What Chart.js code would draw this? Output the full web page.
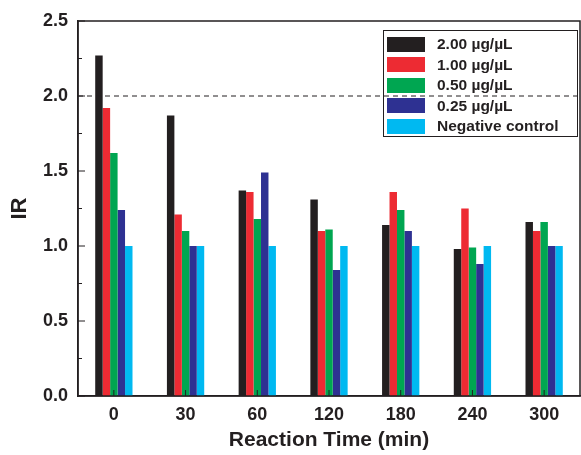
<!DOCTYPE html>
<html>
<head>
<meta charset="utf-8">
<script src="https://cdn.jsdelivr.net/npm/chart.js@4.4.1/dist/chart.umd.min.js"></script>
<style>
    html, body { margin: 0; padding: 0; background: #fff; }
    #wrap { position: relative; width: 581px; height: 455px; }
    #legend {
        position: absolute; left: 383px; top: 30px; width: 195px; height: 107px;
        border: 1.2px solid #231f20; box-sizing: border-box; padding: 3px 0 0 3px;
        font: bold 15.5px "Liberation Sans", Arial, sans-serif; color: #231f20;
    }
    .row { display: flex; align-items: center; height: 20.5px; }
    .sw { width: 38px; height: 15px; margin-right: 12px; }
</style>
</head>
<body>
<div id="wrap">
    <canvas id="chart" width="581" height="455"></canvas>
    <div id="legend"></div>
</div>
<script>
// categories (reaction time, min)
const times = ['0', '30', '60', '120', '180', '240', '300'];

const seriesNames = ['2.00 µg/µL', '1.00 µg/µL', '0.50 µg/µL', '0.25 µg/µL', 'Negative control'];
const seriesColors = ['#231f20', '#ed2b33', '#00a651', '#2e3192', '#00b9f1'];

const ir200 = [2.27, 1.87, 1.37, 1.31, 1.14, 0.98, 1.16];
const ir100 = [1.92, 1.21, 1.36, 1.10, 1.36, 1.25, 1.10];
const ir050 = [1.62, 1.10, 1.18, 1.11, 1.24, 0.99, 1.16];
const ir025 = [1.24, 1.00, 1.49, 0.84, 1.10, 0.88, 1.00];
const irNeg = [1.00, 1.00, 1.00, 1.00, 1.00, 1.00, 1.00];

const threshold = 2.0;

const FONT = '"Liberation Sans", Arial, sans-serif';

const allSeries = [ir200, ir100, ir050, ir025, irNeg];

// frame on top/right, inward ticks and the dashed threshold line
const framePlugin = {
    id: 'frame',
    afterDatasetsDraw(chart) {
        const { ctx, chartArea: a, scales } = chart;
        ctx.save();
        ctx.strokeStyle = '#231f20';
        const y = scales.y.getPixelForValue(threshold);
        ctx.lineWidth = 1;
        ctx.setLineDash([5, 4]);
        ctx.beginPath();
        ctx.moveTo(a.left, y);
        ctx.lineTo(a.right, y);
        ctx.stroke();
        ctx.setLineDash([]);
        ctx.lineWidth = 1.5;
        ctx.strokeRect(a.left, a.top, a.right - a.left, a.bottom - a.top);
        ctx.lineWidth = 1;
        times.forEach((t, i) => {
            const x = scales.x.getPixelForValue(i);
            ctx.beginPath();
            ctx.moveTo(x, a.bottom);
            ctx.lineTo(x, a.bottom - 6);
            ctx.stroke();
        });
        scales.y.ticks.forEach(tk => {
            const ty = scales.y.getPixelForValue(tk.value);
            const len = tk.label ? 7 : 4;
            ctx.beginPath();
            ctx.moveTo(a.left, ty);
            ctx.lineTo(a.left + len, ty);
            ctx.stroke();
        });
        ctx.restore();
    }
};

new Chart(document.getElementById('chart'), {
    type: 'bar',
    data: {
        labels: times,
        datasets: allSeries.map((data, i) => ({
            label: seriesNames[i],
            data: data,
            backgroundColor: seriesColors[i],
            borderWidth: 0,
            categoryPercentage: 0.52,
            barPercentage: 1.0
        }))
    },
    options: {
        responsive: false,
        animation: false,
        layout: { padding: { top: 21, right: 1, left: 0, bottom: 0 } },
        plugins: {
            legend: { display: false },
            tooltip: { enabled: false }
        },
        scales: {
            x: {
                grid: { display: false, drawTicks: false },
                border: { display: true, color: '#231f20', width: 1.5 },
                ticks: { color: '#231f20', padding: 8, font: { family: FONT, size: 18, weight: 'bold' } },
                title: {
                    display: true, text: 'Reaction Time (min)', color: '#231f20',
                    font: { family: FONT, size: 21, weight: 'bold' }, padding: { top: 4, bottom: 2 }
                },
                afterFit(scale) { scale.height = 59; }
            },
            y: {
                min: 0, max: 2.5,
                grid: { display: false, drawTicks: false },
                border: { display: true, color: '#231f20', width: 1.5 },
                ticks: {
                    stepSize: 0.25, color: '#231f20', padding: 10,
                    font: { family: FONT, size: 18, weight: 'bold' },
                    callback: v => (Math.abs(v * 2 - Math.round(v * 2)) < 1e-6 ? v.toFixed(1) : '')
                },
                title: {
                    display: true, text: 'IR', color: '#231f20',
                    font: { family: FONT, size: 22, weight: 'bold' }, padding: { top: 7, bottom: 0 }
                },
                afterFit(scale) { scale.width = 78; }
            }
        }
    },
    plugins: [framePlugin]
});

// legend inside the plot
document.getElementById('legend').innerHTML = seriesNames.map((name, i) =>
    `<div class="row"><span class="sw" style="background:${seriesColors[i]}"></span><span>${name}</span></div>`
).join('');
</script>
</body>
</html>
